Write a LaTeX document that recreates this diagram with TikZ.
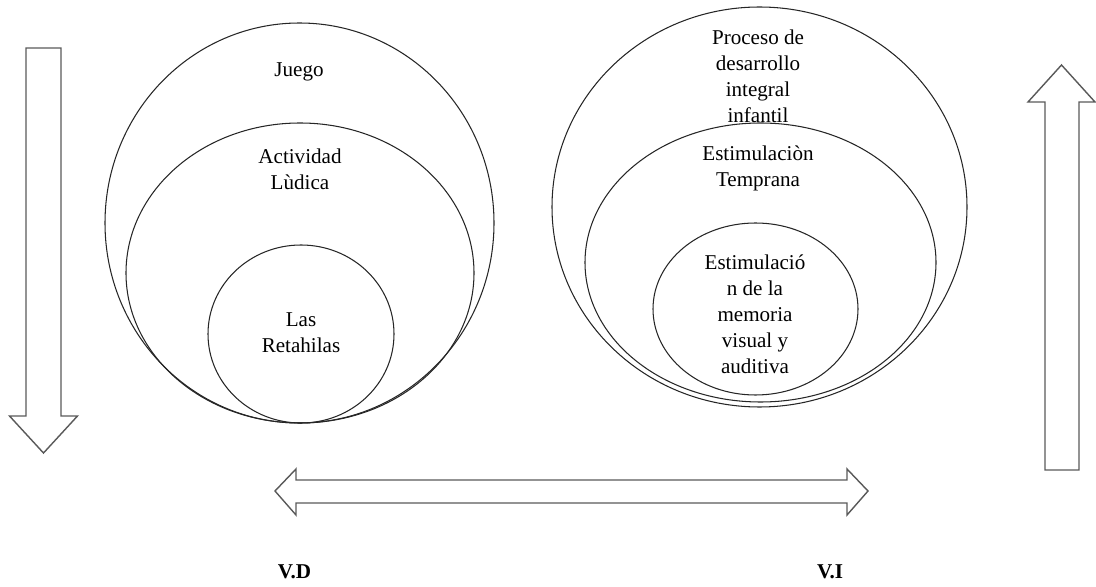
\documentclass[tikz,border=0pt]{standalone}
\usepackage{fontspec}
\setmainfont{Liberation Serif}

\begin{document}
\begin{tikzpicture}[x=0.02cm,y=-0.02cm]
        \tikzset{
            circulo/.style={
                draw=black!85,
                line width=0.6pt
            },
            flecha/.style={
                draw=black!65,
                line width=0.8pt,
                line join=miter
            },
            texto/.style={
                align=center,
                inner sep=0pt,
                font=\fontsize{12}{14.8}\selectfont
            },
            etiq/.style={
                inner sep=0pt,
                font=\fontsize{12}{14.8}\selectfont\bfseries
            }
        }
        \useasboundingbox (0,0) rectangle (1096,587);

        %circulos izquierda
        \draw[circulo] (299.5,223) ellipse (194.5 and 200);
        \draw[circulo] (300,273) ellipse (174 and 150);
        \draw[circulo] (301,334) ellipse (93 and 89);

        %circulos derecha
        \draw[circulo] (759.5,207) ellipse (207.5 and 200);
        \draw[circulo] (760.5,262.5) ellipse (175.5 and 139.5);
        \draw[circulo] (755.5,309) ellipse (102.5 and 86);

        %textos
        \node[texto] (juego) at (299,72) {Juego};
        \node[texto] (ludica) at (300,169) {Actividad\\Lùdica};
        \node[texto] (retahilas) at (301,332.5) {Las\\Retahilas};

        \node[texto] (proceso) at (758,76.5) {Proceso de\\desarrollo\\integral\\infantil};
        \node[texto] (temprana) at (758,168) {Estimulaciòn\\Temprana};
        \node[texto] (memoria) at (755,314.5) {Estimulació\\n de la\\memoria\\visual  y\\auditiva};

        %flechas
        \draw[flecha] (26,48) -- (61,48) -- (61,416) -- (77.5,416) -- (43.5,453)
            -- (9.5,416) -- (26,416) -- cycle;
        \draw[flecha] (1045,470) -- (1045,102) -- (1028,102) -- (1061.5,65)
            -- (1095,102) -- (1079,102) -- (1079,470) -- cycle;
        \draw[flecha] (275,491) -- (296,469) -- (296,480) -- (847,480) -- (847,469)
            -- (868,491) -- (847,515) -- (847,503) -- (296,503) -- (296,515) -- cycle;

        \node[etiq] (vd) at (294.5,572) {V.D};
        \node[etiq] (vi) at (830,572) {V.I};

    \end{tikzpicture}
\end{document}
